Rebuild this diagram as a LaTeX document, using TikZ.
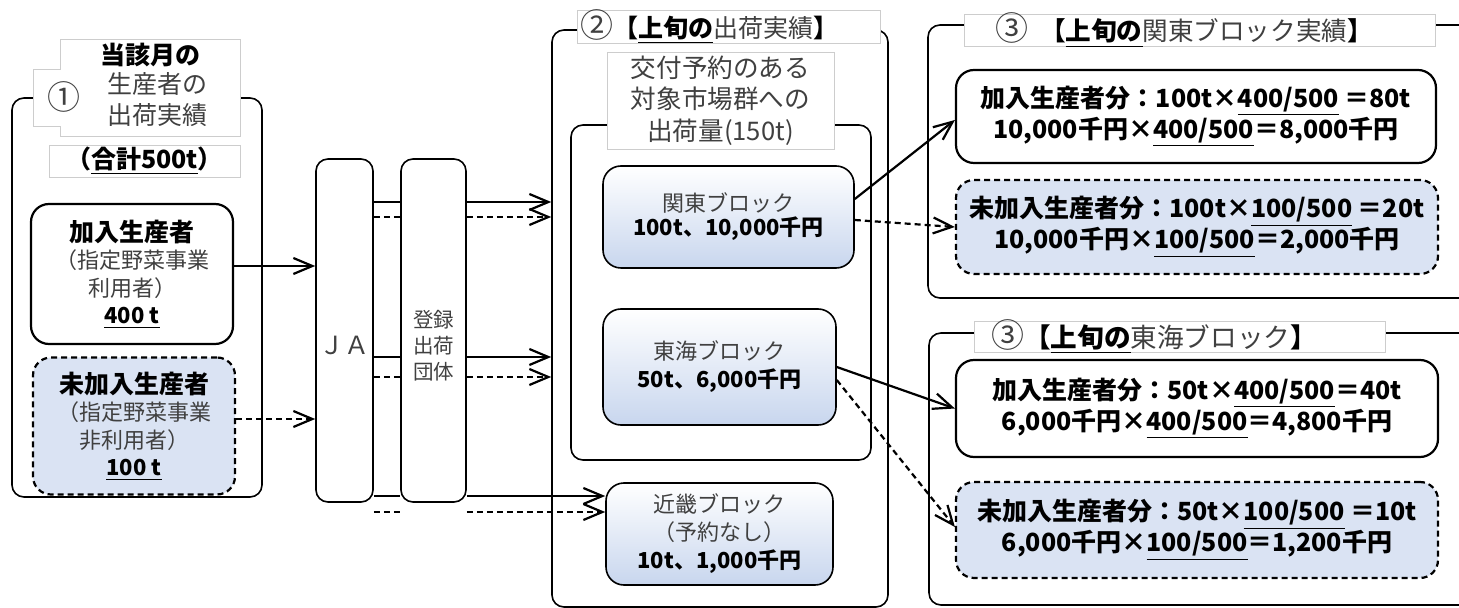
\documentclass[tikz,border=0pt]{standalone}
\usepackage{fontspec}
\setmainfont{Noto Sans CJK JP}
\usepackage{tikz}
\usetikzlibrary{arrows.meta}
\definecolor{bluefill}{RGB}{218,227,243}
\definecolor{blueshade}{RGB}{200,214,238}
\definecolor{txtgray}{RGB}{64,64,64}
\definecolor{framegray}{RGB}{205,205,205}
\newcommand{\bk}[1]{{\color{black}\bfseries #1}}
\newcommand{\cnum}[1]{{\fontsize{16.5}{16}\selectfont #1}}

\begin{document}
\begin{tikzpicture}[x=0.5pt,y=-0.5pt,
	panel/.style={draw,line width=0.8pt,rounded corners=6pt,inner sep=0pt},
	tbox/.style={draw=framegray,fill=white,line width=0.4pt,inner sep=0pt},
	wbox/.style={draw,line width=1.1pt,rounded corners=9pt,fill=white,inner sep=0pt,align=center},
	dbox/.style={wbox,dash pattern=on 3pt off 2pt,fill=bluefill},
	gbox/.style={draw,line width=0.8pt,rounded corners=9pt,top color=white,bottom color=blueshade,inner sep=0pt,align=center,text=txtgray,font=\fontsize{11}{14}\selectfont},
	colbox/.style={draw,line width=0.8pt,rounded corners=6pt,fill=white,inner sep=0pt},
	txt/.style={inner sep=0pt,text=txtgray},
	big/.style={font=\fontsize{12.5}{15.5}\selectfont},
	mid/.style={text=txtgray,font=\fontsize{11}{13.8}\selectfont},
	rtxt/.style={font=\bfseries\fontsize{12.5}{15.5}\selectfont},
	flow/.style={line width=1.1pt,-{Straight Barb[length=9.5pt,width=8pt]}},
	dflow/.style={flow,dash pattern=on 3pt off 2pt},
	seg/.style={line width=1.1pt},
	dseg/.style={seg,dash pattern=on 3pt off 2pt}]

	\useasboundingbox (0,0) rectangle (1459,608);

	\node[panel,minimum width=125pt,minimum height=199.5pt] (p1) at (137,297.5) {};
	\draw[tbox] (60,39) -- (240,39) -- (240,136) -- (60,136) -- (60,126) -- (33,126) -- (33,69) -- (60,69) -- cycle;
	\node[txt,big] (t1a) at (150,55) {\bk{当該月の}};
	\node[txt,big] (t1b) at (64,97) {\cnum{①}};
	\node[txt,big,align=center] (t1c) at (157,99.5) {生産者の\\出荷実績};
	\node[tbox,big,minimum width=95.5pt,minimum height=16pt] (t1d) at (144.5,161) {\bk{（\underline{合計500t}）}};

	\node[wbox,mid,minimum width=101pt,minimum height=70pt] (g1) at (132,274) {{\bk{\fontsize{12.5}{13.8}\selectfont 加入生産者}}\\（指定野菜事業\\利用者）\\\bk{\underline{400 t}}};
	\node[dbox,mid,minimum width=101pt,minimum height=68.5pt] (g2) at (134,426) {{\bk{\fontsize{12.5}{13.8}\selectfont 未加入生産者}}\\（指定野菜事業\\非利用者）\\\bk{\underline{100 t}}};

	\node[colbox,minimum width=28.5pt,minimum height=171.5pt] (ja) at (344.5,330.5) {};
	\node[txt,big] (jat) at (344.5,345) {ＪＡ};
	\node[colbox,minimum width=32.5pt,minimum height=171.5pt] (reg) at (433.5,330.5) {};
	\node[txt,align=center,font=\fontsize{10.25}{13}\selectfont] (regt) at (433.5,346) {登録\\出荷\\団体};

	\node[panel,minimum width=168pt,minimum height=288.5pt] (p2) at (720,318.5) {};
	\node[tbox,minimum width=151.5pt,minimum height=16.5pt] (t2) at (728.5,26.5) {};
	\node[txt,big,anchor=west] (t2t) at (580,26.5) {\cnum{②}\bk{【\underline{上旬の}}出荷実績\bk{】}};
	\node[panel,minimum width=150pt,minimum height=167.5pt] (p2in) at (721,292.5) {};
	\node[tbox,txt,align=center,font=\fontsize{12.8}{15.75}\selectfont,minimum width=113.5pt,minimum height=48.5pt] (t2b) at (720.5,100.5) {交付予約のある\\対象市場群への\\出荷量(150t)};

	\node[gbox,font=\fontsize{11}{12}\selectfont,minimum width=125.5pt,minimum height=51pt] (m1) at (728.5,217) {関東ブロック\\\bk{\fontsize{11}{12}\selectfont 100t、10,000千円}};
	\node[gbox,minimum width=116.5pt,minimum height=58pt] (m2) at (719.5,367) {東海ブロック\\\bk{\fontsize{11}{14}\selectfont 50t、6,000千円}};
	\node[gbox,minimum width=113.5pt,minimum height=51pt] (m3) at (719.5,534) {近畿ブロック\\（予約なし）\\\bk{\fontsize{11}{14}\selectfont 10t、1,000千円}};

	\node[panel,minimum width=276pt,minimum height=136.5pt] (p3) at (1204,161.5) {};
	\node[tbox,minimum width=235.5pt,minimum height=16pt] (t3) at (1199.5,30) {};
	\node[txt,font=\fontsize{12.8}{15.5}\selectfont] (t3t) at (1184,30) {\cnum{③}\hspace{6pt}\bk{【\underline{上旬の}}関東ブロック実績\bk{】}};
	\node[wbox,rtxt,minimum width=240pt,minimum height=46.5pt] (r1) at (1196,116.5) {加入生産者分：100t×\underline{400/500} ＝80t\\10,000千円×\underline{400/500}＝8,000千円};
	\node[dbox,rtxt,minimum width=241pt,minimum height=47pt] (r2) at (1197,227) {未加入生産者分：100t×\underline{100/500} ＝20t\\10,000千円×\underline{100/500}＝2,000千円};

	\node[panel,minimum width=275.5pt,minimum height=136pt] (p4) at (1204.5,469) {};
	\node[tbox,minimum width=205.5pt,minimum height=15.5pt] (t4) at (1179.5,336.5) {};
	\node[txt,font=\fontsize{13.3}{15.5}\selectfont] (t4t) at (1154,336.5) {\cnum{③}\bk{【\underline{上旬の}}東海ブロック\bk{】}};
	\node[wbox,rtxt,minimum width=241pt,minimum height=48.5pt] (r3) at (1197,408.5) {加入生産者分：50t×\underline{400/500}＝40t\\6,000千円×\underline{400/500}＝4,800千円};
	\node[dbox,rtxt,minimum width=241pt,minimum height=48pt] (r4) at (1197,530) {未加入生産者分：50t×\underline{100/500} ＝10t\\6,000千円×\underline{100/500}＝1,200千円};

	\coordinate (a1) at (0,202);
	\coordinate (a2) at (0,217);
	\coordinate (a3) at (0,357);
	\coordinate (a4) at (0,377);
	\coordinate (a5) at (0,496);
	\coordinate (a6) at (0,512);

	\draw[flow] ([yshift=4pt]g1.east) to ([yshift=4pt]g1.east -| ja.west);
	\draw[dflow] ([yshift=3.5pt]g2.east) to ([yshift=3.5pt]g2.east -| ja.west);

	\draw[seg] (ja.east |- a1) to (reg.west |- a1);
	\draw[dseg] (ja.east |- a2) to (reg.west |- a2);
	\draw[seg] (ja.east |- a3) to (reg.west |- a3);
	\draw[dseg] (ja.east |- a4) to (reg.west |- a4);
	\draw[seg] (ja.east |- a5) to (reg.west |- a5);
	\draw[dseg] (ja.east |- a6) to (reg.west |- a6);

	\draw[flow] (reg.east |- a1) to (p2.west |- a1);
	\draw[dflow] (reg.east |- a2) to (p2.west |- a2);
	\draw[flow] (reg.east |- a3) to (p2.west |- a3);
	\draw[dflow] (reg.east |- a4) to (p2.west |- a4);
	\draw[flow] (reg.east |- a5) to (m3.west |- a5);
	\draw[dflow] (reg.east |- a6) to (m3.west |- a6);

	\draw[flow] ([yshift=9pt]m1.east) to ([yshift=-1.75pt]r1.west);
	\draw[dflow] ([yshift=-1.5pt]m1.east) to (r2.west);
	\draw[flow] (m2.east) to (r3.west);
	\draw[dflow] ([yshift=-6.5pt]m2.east) to ([yshift=1.5pt]r4.west);

\end{tikzpicture}
\end{document}
